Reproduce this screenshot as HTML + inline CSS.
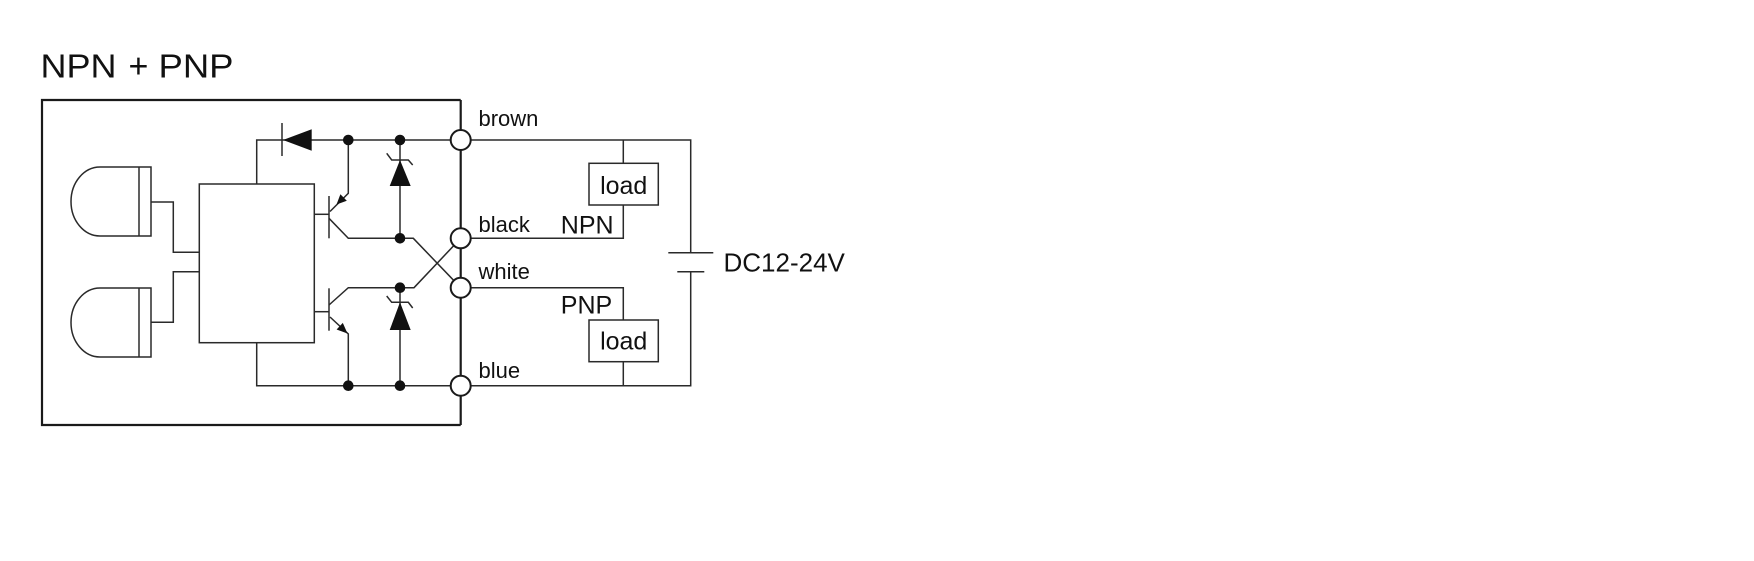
<!DOCTYPE html>
<html>
<head>
<meta charset="utf-8">
<style>
html,body{margin:0;padding:0;background:#fff;}
svg{display:block;}
text{font-family:"Liberation Sans",Arial,sans-serif;fill:#111;}
</style>
</head>
<body>
<svg width="1754" height="561" viewBox="0 0 1754 561" xmlns="http://www.w3.org/2000/svg">
  <rect x="0" y="0" width="1754" height="561" fill="#fff"/>

  <!-- Title -->
  <text x="40.5" y="77.5" font-size="33" textLength="76" lengthAdjust="spacingAndGlyphs">NPN</text>
  <text x="128.5" y="77.5" font-size="34">+</text>
  <text x="158.5" y="77.5" font-size="33" textLength="75" lengthAdjust="spacingAndGlyphs">PNP</text>

  <!-- Housing box -->
  <path d="M460.7,100 H42 V425 H460.7" fill="none" stroke="#1a1a1a" stroke-width="2.2"/>

  <g fill="none" stroke="#2a2a2a" stroke-width="1.5">
    <!-- LEDs -->
    <path d="M151,167 L100,167 A29,34.5 0 0 0 100,236 L151,236 Z"/>
    <path d="M139,167 V236"/>
    <path d="M151,288 L100,288 A29,34.5 0 0 0 100,357 L151,357 Z"/>
    <path d="M139,288 V357"/>
    <path d="M151,202 H173.3 V252.3 H199.3"/>
    <path d="M151,322.3 H173.3 V271.7 H199.3"/>

    <!-- IC -->
    <rect x="199.3" y="184" width="115" height="158.7"/>
    <path d="M256.7,184 V140 H460.7"/>
    <path d="M256.7,342.7 V385.7 H460.7"/>

    <!-- Diode bar -->
    <path d="M282,123 V156"/>

    <!-- Top transistor (PNP) -->
    <path d="M314.3,214.3 H329"/>
    <path d="M329,196 V238.3"/>
    <path d="M348.3,140 V193.3 L330,211.5"/>
    <path d="M329,218.3 L348.3,238.3 H413.3 L460.7,287.7"/>

    <!-- Bottom transistor (NPN) -->
    <path d="M314.3,311.7 H329"/>
    <path d="M329,288.3 V330.7"/>
    <path d="M329,305 L348.3,287.7 H414 L460.7,238.3"/>
    <path d="M330,317 L348.3,334 V385.7"/>

    <!-- Zeners -->
    <path d="M400,140 V238.3"/>
    <path d="M386.7,153.3 L391.7,160 H408.3 L412.7,165"/>
    <path d="M400,287.7 V385.7"/>
    <path d="M386.7,296 L391.7,302.3 H408.3 L412.7,308"/>

    <!-- External wiring -->
    <path d="M460.7,140 H690.7 V252.7"/>
    <path d="M623.3,140 V163.3"/>
    <rect x="589" y="163.3" width="69.3" height="41.7"/>
    <path d="M623.3,205 V238.3 H460.7"/>
    <path d="M460.7,287.7 H623.3 V320"/>
    <rect x="589" y="320" width="69.3" height="41.7"/>
    <path d="M623.3,361.7 V385.7"/>
    <path d="M460.7,385.7 H690.7 V271.7"/>
    <path d="M668.3,252.7 H713.3"/>
    <path d="M677.3,271.7 H704.3"/>
  </g>

  <!-- Filled shapes -->
  <g fill="#111" stroke="none">
    <polygon points="283,140 311.7,129.3 311.7,150.7"/>
    <polygon points="400,160 389.7,186 410.7,186"/>
    <polygon points="400,302.3 389.7,330 410.7,330"/>
    <!-- PNP emitter arrow (toward base) -->
    <polygon points="336.5,204.5 346.8,200.7 340.4,194.3"/>
    <!-- NPN emitter arrow (away from base) -->
    <polygon points="347.5,333.5 336.6,329.5 342.8,322.9"/>
    <!-- junction dots -->
    <circle cx="348.3" cy="140" r="5.3"/>
    <circle cx="400" cy="140" r="5.3"/>
    <circle cx="400" cy="238.3" r="5.3"/>
    <circle cx="400" cy="287.7" r="5.3"/>
    <circle cx="348.3" cy="385.7" r="5.3"/>
    <circle cx="400" cy="385.7" r="5.3"/>
  </g>

  <!-- Terminal rail -->
  <path d="M460.7,100 V425" stroke="#1a1a1a" stroke-width="2.2" fill="none"/>
  <g fill="#fff" stroke="#1a1a1a" stroke-width="2">
    <circle cx="460.7" cy="140" r="10"/>
    <circle cx="460.7" cy="238.3" r="10"/>
    <circle cx="460.7" cy="287.7" r="10"/>
    <circle cx="460.7" cy="385.7" r="10"/>
  </g>

  <!-- Labels -->
  <text x="478.5" y="126" font-size="22">brown</text>
  <text x="478.5" y="232" font-size="22">black</text>
  <text x="478.5" y="279" font-size="22">white</text>
  <text x="478.5" y="378" font-size="22">blue</text>
  <text x="560.8" y="233.3" font-size="25">NPN</text>
  <text x="560.8" y="313.3" font-size="25">PNP</text>
  <text x="623.7" y="194" font-size="25" text-anchor="middle">load</text>
  <text x="623.7" y="349.5" font-size="25" text-anchor="middle">load</text>
  <text x="723.5" y="271.5" font-size="26">DC12-24V</text>
</svg>
</body>
</html>
